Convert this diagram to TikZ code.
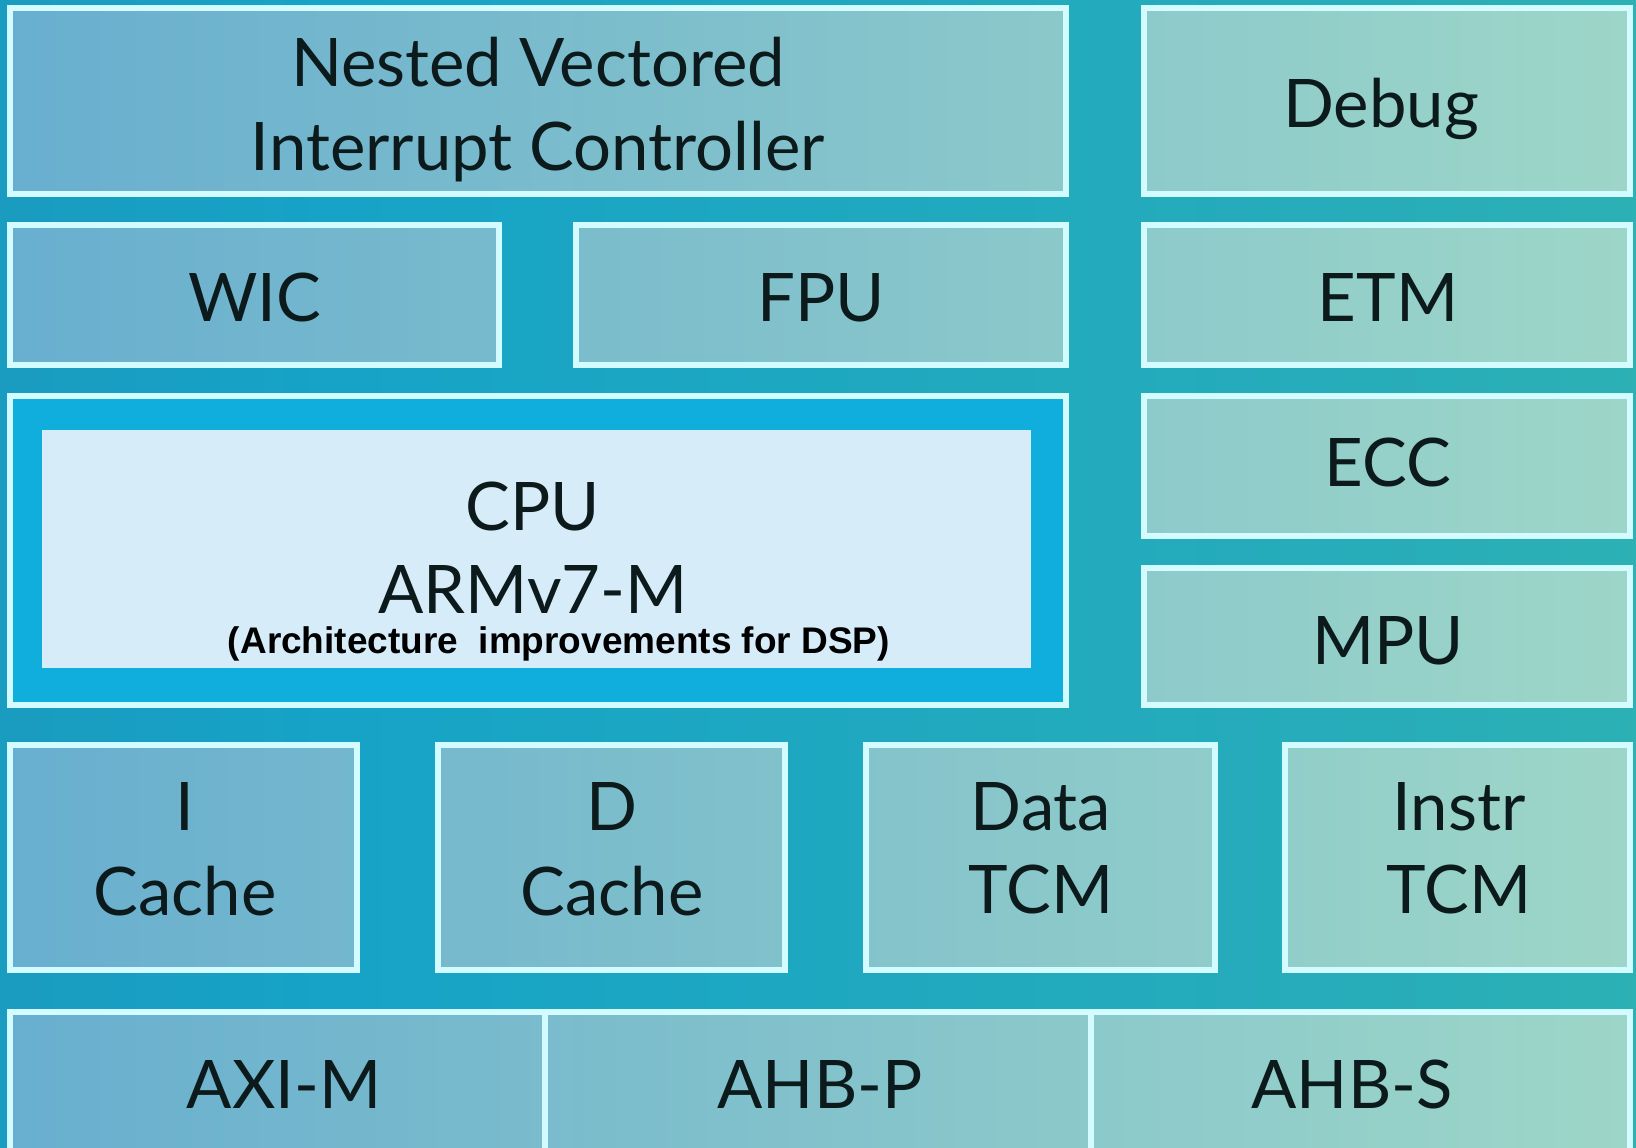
\documentclass[tikz,border=0pt]{standalone}
\usepackage{fontspec}
\setmainfont{Lato}
\newfontfamily\notefont{Liberation Sans}

\definecolor{boxL}{HTML}{68AECF}
\definecolor{boxR}{HTML}{9DD6C8}
\definecolor{edge}{HTML}{D2FCFF}
\definecolor{cpublue}{HTML}{10AEDC}
\definecolor{cpucore}{HTML}{D6ECF8}
\definecolor{ink}{HTML}{0C1A1C}

% backdrop: steel blue on the left, bright cyan-blue centre, teal on the right
\pgfdeclarehorizontalshading{backdrop}{100bp}{%
  color(0bp)=(rgb,255:red,35;green,136;blue,173);
  color(35bp)=(rgb,255:red,22;green,163;blue,199);
  color(65bp)=(rgb,255:red,38;green,172;blue,186);
  color(100bp)=(rgb,255:red,58;green,188;blue,166)}

% block: style, x1, y1, x2, y2, name  (pixel units, y downwards)
\newcommand\block[6]{%
  \pgfmathtruncatemacro\blkpl{100-#2/16.36}%
  \pgfmathtruncatemacro\blkpr{100-#4/16.36}%
  \node[#1, left color=boxL!\blkpl!boxR, right color=boxL!\blkpr!boxR,
        minimum width={(#4-#2)*0.5pt}, minimum height={(#5-#3)*0.5pt}]
        (#6) at ({(#2+#4)/2},{(#3+#5)/2}) {};}
% one line of text, placed on its baseline
\newcommand\boxtext[4]{\node[lbl, anchor=base] (#1) at (#2,#3) {#4};}

\begin{document}
\begin{tikzpicture}[x=0.5pt, y=-0.5pt,
  unit/.style={draw=edge, line width=3pt, inner sep=0pt, outer sep=0pt, rectangle},
  lbl/.style={font=\fontsize{33.5}{40}\selectfont, text=ink, inner sep=0pt},
  note/.style={font=\notefont\bfseries\fontsize{18.5}{22}\selectfont, text=black, inner sep=0pt}]

\useasboundingbox (0,0) rectangle (1636,1147);
\clip (0,0) rectangle (1636,1147);
\shade[shading=backdrop] (0,0) rectangle (1636,1147);

% top rows
\block{unit}{10}{8}{1066}{194}{nvic}
\block{unit}{1144}{8}{1630}{194}{debug}
\block{unit}{10}{225}{499}{365}{wic}
\block{unit}{576}{225}{1066}{365}{fpu}
\block{unit}{1144}{225}{1630}{365}{etm}

% processor core
\node[draw=edge, line width=3pt, fill=cpublue, inner sep=0pt, outer sep=0pt,
      minimum width={1056*0.5pt}, minimum height={309*0.5pt}] (cpu) at (538,550.5) {};
\node[fill=cpucore, inner sep=0pt, outer sep=0pt,
      minimum width={989*0.5pt}, minimum height={238*0.5pt}] (core) at (536.5,549) {};

\block{unit}{1144}{396}{1630}{536}{ecc}
\block{unit}{1144}{568}{1630}{705}{mpu}

% memories
\block{unit}{10}{745}{357}{970}{icache}
\block{unit}{438}{745}{785}{970}{dcache}
\block{unit}{866}{745}{1215}{970}{dtcm}
\block{unit}{1285}{745}{1630}{970}{itcm}

% bus interfaces
\block{unit}{10}{1012}{545}{1170}{axim}
\block{unit}{545}{1012}{1091}{1170}{ahbp}
\block{unit}{1091}{1012}{1630}{1170}{ahbs}

% labels
\boxtext{nvic1}{538}{86}{Nested Vectored}
\boxtext{nvic2}{538}{170}{Interrupt Controller}
\boxtext{debugt}{1381}{127}{Debug}
\boxtext{wict}{255}{321}{WIC}
\boxtext{fput}{821}{321}{FPU}
\boxtext{etmt}{1388}{321}{ETM}
\boxtext{ecct}{1388}{486}{ECC}
\boxtext{mput}{1388}{664}{MPU}
\boxtext{cpu1}{533}{530}{CPU}
\boxtext{cpu2}{533}{613}{ARMv7-M}
\node[note, anchor=base] (cpu3) at (559,653) {(Architecture~~improvements for DSP)};
\boxtext{ic1}{185}{830}{I}
\boxtext{ic2}{185}{915}{Cache}
\boxtext{dc1}{612}{830}{D}
\boxtext{dc2}{612}{915}{Cache}
\boxtext{dt1}{1041}{830}{Data}
\boxtext{dt2}{1041}{913}{TCM}
\boxtext{it1}{1459}{830}{Instr}
\boxtext{it2}{1459}{913}{TCM}
\boxtext{axit}{284}{1108}{AXI-M}
\boxtext{ahbpt}{820}{1108}{AHB-P}
\boxtext{ahbst}{1352}{1108}{AHB-S}
\end{tikzpicture}
\end{document}
